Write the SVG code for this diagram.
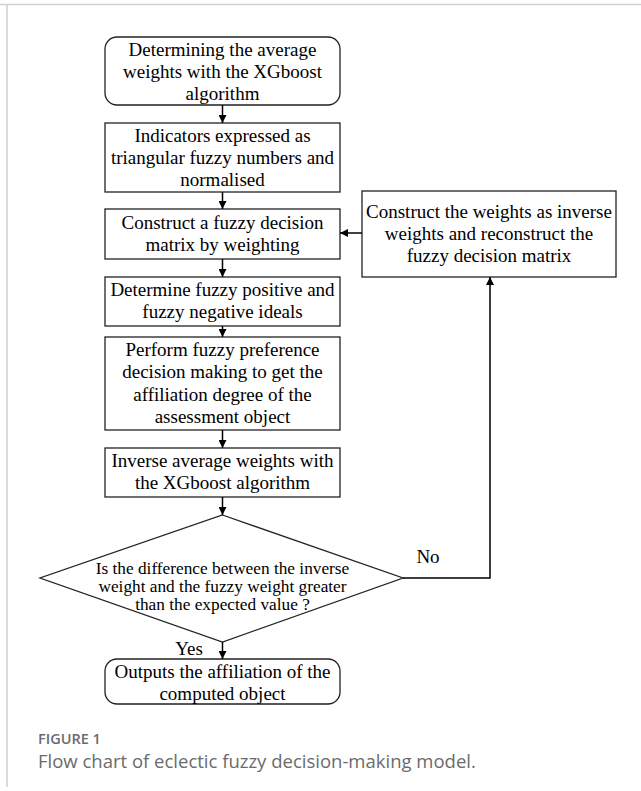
<svg xmlns="http://www.w3.org/2000/svg" width="641" height="791" viewBox="0 0 641 791">
<defs>
<marker id="ah" viewBox="0 0 10 10" refX="10" refY="5" markerWidth="8" markerHeight="8" markerUnits="userSpaceOnUse" orient="auto">
<path d="M0,0 L10,5 L0,10 z" fill="#000"/>
</marker>
<style>
.box{fill:#fff;stroke:#222;stroke-width:1.3}
.t{font-family:"Liberation Serif","Times New Roman",serif;font-size:19px;fill:#000;text-anchor:middle}
.d{font-family:"Liberation Serif","Times New Roman",serif;font-size:17.3px;fill:#000;text-anchor:middle}
.c{fill:none;stroke:#000;stroke-width:1.5}
.frame{stroke:#d0d0d0;stroke-width:1.5;fill:none}
.cap{font-family:"Open Sans","Noto Sans",sans-serif;fill:#6b6b6b}
</style>
</defs>
<rect width="641" height="791" fill="#fff"/>
<path class="frame" d="M0,4.5 H641 M7,4.5 V787"/>

<g id="n1">
<rect class="box" x="105" y="37" width="235" height="68" rx="12"/>
<text class="t" x="222.5" y="56">Determining the average</text>
<text class="t" x="222.5" y="78">weights with the XGboost</text>
<text class="t" x="222.5" y="100">algorithm</text>
</g>
<g id="n2">
<rect class="box" x="105" y="123" width="235" height="69"/>
<text class="t" x="222.5" y="142">Indicators expressed as</text>
<text class="t" x="222.5" y="164">triangular fuzzy numbers and</text>
<text class="t" x="222.5" y="186">normalised</text>
</g>
<g id="n3">
<rect class="box" x="105" y="209" width="235" height="50"/>
<text class="t" x="222.5" y="229">Construct a fuzzy decision</text>
<text class="t" x="222.5" y="251">matrix by weighting</text>
</g>
<g id="n4">
<rect class="box" x="105" y="277" width="235" height="49"/>
<text class="t" x="222.5" y="296">Determine fuzzy positive and</text>
<text class="t" x="222.5" y="318">fuzzy negative ideals</text>
</g>
<g id="n5">
<rect class="box" x="105" y="337" width="235" height="93"/>
<text class="t" x="222.5" y="356">Perform fuzzy preference</text>
<text class="t" x="222.5" y="378">decision making to get the</text>
<text class="t" x="222.5" y="401">affiliation degree of the</text>
<text class="t" x="222.5" y="423">assessment object</text>
</g>
<g id="n6">
<rect class="box" x="105" y="448" width="235" height="49"/>
<text class="t" x="222.5" y="467">Inverse average weights with</text>
<text class="t" x="222.5" y="489">the XGboost algorithm</text>
</g>
<g id="n7">
<polygon class="box" points="222.5,515 403,578 222.5,642 40,578"/>
<text class="d" x="222.5" y="574">Is the difference between the inverse</text>
<text class="d" x="222.5" y="592">weight and the fuzzy weight greater</text>
<text class="d" x="222.5" y="610">than the expected value ?</text>
</g>
<g id="n8">
<rect class="box" x="105" y="659" width="235" height="45" rx="12"/>
<text class="t" x="222.5" y="678">Outputs the affiliation of the</text>
<text class="t" x="222.5" y="700">computed object</text>
</g>
<g id="n9">
<rect class="box" x="362" y="191" width="254" height="86"/>
<text class="t" x="489" y="218">Construct the weights as inverse</text>
<text class="t" x="489" y="240">weights and reconstruct the</text>
<text class="t" x="489" y="262">fuzzy decision matrix</text>
</g>

<g id="connectors">
<line class="c" x1="222.5" y1="105" x2="222.5" y2="123" marker-end="url(#ah)"/>
<line class="c" x1="222.5" y1="192" x2="222.5" y2="209" marker-end="url(#ah)"/>
<line class="c" x1="222.5" y1="259" x2="222.5" y2="277" marker-end="url(#ah)"/>
<line class="c" x1="222.5" y1="326" x2="222.5" y2="337" marker-end="url(#ah)"/>
<line class="c" x1="222.5" y1="430" x2="222.5" y2="448" marker-end="url(#ah)"/>
<line class="c" x1="222.5" y1="497" x2="222.5" y2="515" marker-end="url(#ah)"/>
<line class="c" x1="222.5" y1="642" x2="222.5" y2="659" marker-end="url(#ah)"/>
<line class="c" x1="362" y1="233" x2="340" y2="233" marker-end="url(#ah)"/>
<polyline class="c" points="403,578 490,578 490,277" marker-end="url(#ah)"/>
<text class="t" x="189" y="655">Yes</text>
<text class="t" x="428" y="563">No</text>
</g>

<g id="caption">
<text class="cap" x="38" y="744" font-size="14.5" font-weight="600">FIGURE 1</text>
<text class="cap" x="38" y="768" font-size="18.5">Flow chart of eclectic fuzzy decision-making model.</text>
</g>
</svg>
